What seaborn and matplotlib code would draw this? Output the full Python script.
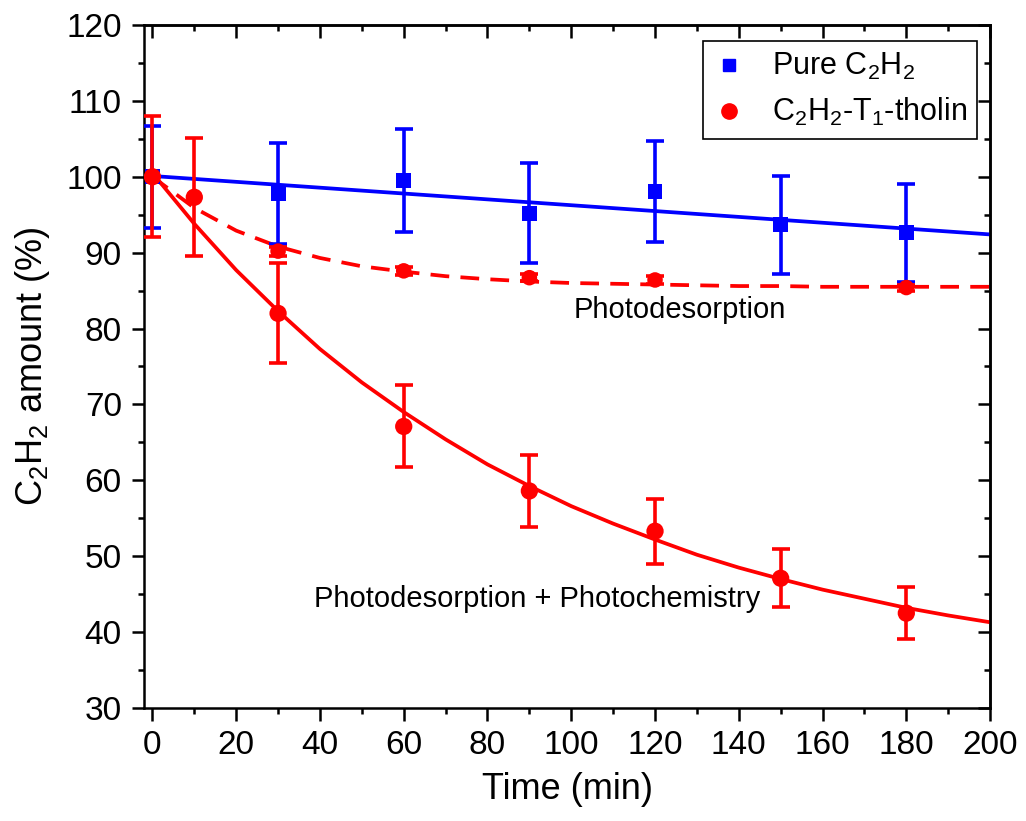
import matplotlib
matplotlib.use("Agg")
import matplotlib.pyplot as plt
from matplotlib.lines import Line2D
from matplotlib.ticker import MultipleLocator
import seaborn as sns

# 實驗數據 (讀自圖片)
time_pure = [0, 30, 60, 90, 120, 150, 180]
pure_c2h2 = [100.0, 97.8, 99.5, 95.2, 98.1, 93.7, 92.6]
pure_err = [6.7, 6.7, 6.75, 6.6, 6.65, 6.45, 6.5]

time_tholin = [0, 10, 30, 60, 90, 120, 150, 180]
tholin = [100.0, 97.3, 82.0, 67.1, 58.6, 53.3, 47.1, 42.5]
tholin_err = [8.0, 7.8, 6.6, 5.4, 4.75, 4.3, 3.85, 3.45]

time_desorp = [30, 60, 90, 120, 180]
desorp = [90.2, 87.6, 86.7, 86.4, 85.4]
desorp_err = [0.6, 0.5, 0.5, 0.5, 0.4]

# 擬合曲線 (讀自圖片)
fit_pure_time = [0, 200]
fit_pure = [100.1, 92.4]

fit_time = [0, 10, 20, 30, 40, 50, 60, 70, 80, 90, 100,
            110, 120, 130, 140, 150, 160, 170, 180, 190, 200]
fit_tholin = [100.5, 93.8, 87.7, 82.3, 77.3, 72.9, 69.0, 65.4, 62.1, 59.25, 56.6,
              54.3, 52.2, 50.2, 48.5, 47.0, 45.6, 44.4, 43.2, 42.2, 41.3]
fit_desorp = [100.0, 95.9, 92.9, 90.8, 89.3, 88.2, 87.5, 86.9, 86.5, 86.2, 86.0,
              85.9, 85.8, 85.7, 85.6, 85.6, 85.5, 85.5, 85.5, 85.5, 85.5]

BLUE = "#0000FF"
RED = "#FF0000"

sns.set_style("ticks")
plt.rcParams["font.family"] = ["Liberation Sans", "DejaVu Sans"]
plt.rcParams["mathtext.default"] = "regular"
for key in ["text.color", "axes.labelcolor", "xtick.color", "ytick.color", "axes.edgecolor"]:
    plt.rcParams[key] = "black"

fig = plt.figure(figsize=(10.26, 8.21), dpi=100)
ax = fig.add_axes([0.1404, 0.1376, 0.8246, 0.832])

# 擬合線
LW = 2.7
sns.lineplot(x=fit_pure_time, y=fit_pure, color=BLUE, linewidth=LW, ax=ax, zorder=2)
sns.lineplot(x=fit_time, y=fit_tholin, color=RED, linewidth=LW, ax=ax, zorder=2)
sns.lineplot(x=fit_time, y=fit_desorp, color=RED, linewidth=LW, ax=ax, zorder=2,
             linestyle=(0, (5, 3)))

# 誤差棒
err_kw = dict(fmt="none", elinewidth=2.6, capsize=6.5, capthick=2.6, zorder=3)
ax.errorbar(time_pure, pure_c2h2, yerr=pure_err, ecolor=BLUE, **err_kw)
ax.errorbar(time_tholin, tholin, yerr=tholin_err, ecolor=RED, **err_kw)
ax.errorbar(time_desorp, desorp, yerr=desorp_err, ecolor=RED, **err_kw)

# 數據點
sns.scatterplot(x=time_pure, y=pure_c2h2, marker="s", s=115, color=BLUE,
                edgecolor="none", ax=ax, zorder=4)
sns.scatterplot(x=time_tholin, y=tholin, marker="o", s=155, color=RED,
                edgecolor="none", ax=ax, zorder=4)
sns.scatterplot(x=time_desorp, y=desorp, marker="o", s=125, color=RED,
                edgecolor="none", ax=ax, zorder=4)

# 註解
ax.text(100.6, 81.35, "Photodesorption", fontsize=21, ha="left", va="baseline")
ax.text(38.5, 43.3, "Photodesorption + Photochemistry", fontsize=21,
        ha="left", va="baseline")

# 座標軸
ax.set_xlim(-2, 200)
ax.set_ylim(30, 120)
ax.xaxis.set_major_locator(MultipleLocator(20))
ax.xaxis.set_minor_locator(MultipleLocator(10))
ax.yaxis.set_major_locator(MultipleLocator(10))
ax.yaxis.set_minor_locator(MultipleLocator(5))
ax.tick_params(which="both", direction="out", width=1.8, color="black",
               labelsize=24, labelcolor="black", top=False, right=False)
ax.tick_params(which="major", length=9, pad=7)
ax.tick_params(which="minor", length=4.5)
for side in ["top", "right", "bottom", "left"]:
    ax.spines[side].set_linewidth(1.8)
    ax.spines[side].set_color("black")

# 上方和右方的內向刻度
secx = ax.secondary_xaxis("top")
secx.xaxis.set_major_locator(MultipleLocator(20))
secx.xaxis.set_minor_locator(MultipleLocator(10))
secx.tick_params(which="both", direction="in", width=1.8, color="black", labeltop=False)
secx.tick_params(which="major", length=9)
secx.tick_params(which="minor", length=4.5)
secx.spines["top"].set_linewidth(1.8)
secy = ax.secondary_yaxis("right")
secy.yaxis.set_major_locator(MultipleLocator(10))
secy.yaxis.set_minor_locator(MultipleLocator(5))
secy.tick_params(which="both", direction="in", width=1.8, color="black", labelright=False)
secy.tick_params(which="major", length=9)
secy.tick_params(which="minor", length=4.5)
secy.spines["right"].set_linewidth(1.8)

ax.set_xlabel("Time (min)", fontsize=26, labelpad=8)
ax.set_ylabel(r"C$_2$H$_2$ amount (%)", fontsize=26, labelpad=10)

# 圖例
handles = [
    Line2D([], [], marker="s", color=BLUE, linestyle="none", markersize=9),
    Line2D([], [], marker="o", color=RED, linestyle="none", markersize=11),
]
labels = [r"Pure C$_2$H$_2$", r"C$_2$H$_2$-T$_1$-tholin"]
leg = ax.legend(handles, labels, loc="upper right", bbox_to_anchor=(0.985, 0.977),
                borderaxespad=0, fontsize=22, frameon=True, fancybox=False,
                framealpha=1, edgecolor="black", handlelength=1.0,
                handletextpad=0.9, borderpad=0.35, labelspacing=0.45)
leg.get_frame().set_linewidth(1.2)

fig.savefig("out.png", dpi=100)
